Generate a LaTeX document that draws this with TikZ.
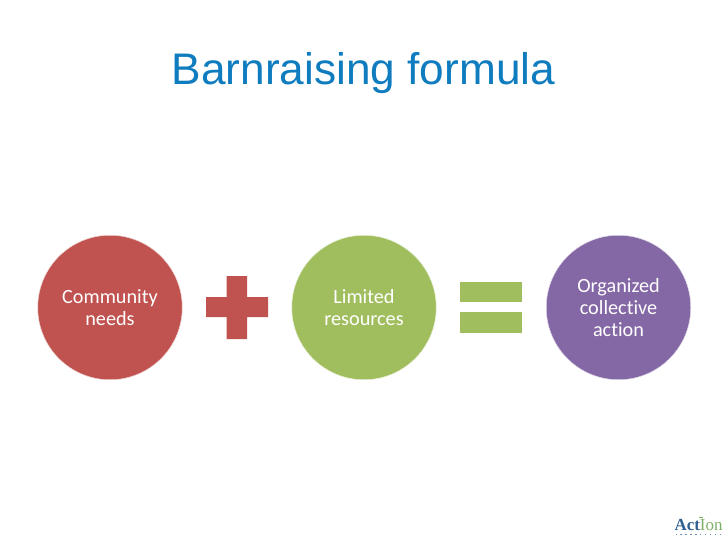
\documentclass[tikz,border=0pt]{standalone}
\usepackage{fontspec}
\setmainfont{Liberation Sans}
\newfontfamily\carlito[Ligatures=NoCommon]{Carlito}
\newfontfamily\logofont{Liberation Serif}
\definecolor{titleblue}{HTML}{0F7CBF}
\definecolor{redfill}{HTML}{C0534F}
\definecolor{greenfill}{HTML}{A0BE5E}
\definecolor{purplefill}{HTML}{8467A5}
\definecolor{logoblue}{HTML}{2F5F8F}
\definecolor{logogreen}{HTML}{7FB069}
\tikzset{
  x=1bp,y=-1bp,
  disc/.style={circle,minimum size=144.5bp,inner sep=0pt,draw=#1!25!white,line width=0.5bp,align=center,text=white,fill=#1,font=\carlito\fontsize{20.3}{22.5}\selectfont},
  opshape/.style={fill=#1,draw=none}
}
\begin{document}
\begin{tikzpicture}
\useasboundingbox (0,0) rectangle (728,546);
\fill[white] (0,0) rectangle (728,546);
\node[text=titleblue,font=\fontsize{44.4}{50}\selectfont,inner sep=0pt,anchor=base] (title) at (363.5,85) {Barnraising formula};
\node[disc=redfill] (a) at (110,307.5) {Community\\needs};
\node[disc=greenfill] (b) at (364,307.5) {Limited\\resources};
\node[disc=purplefill] (c) at (618.5,307.5) {Organized\\collective\\action};
\fill[opshape=redfill] (206,297) -- (226.5,297) -- (226.5,276) -- (247,276) -- (247,297) -- (268,297) -- (268,317) -- (247,317) -- (247,339) -- (226.5,339) -- (226.5,317) -- (206,317) -- cycle;
\fill[opshape=greenfill] (460,282) rectangle (522,302);
\fill[opshape=greenfill] (460,312) rectangle (522,332.5);
\node[inner sep=0pt,anchor=base,font=\logofont\fontsize{17}{18}\selectfont] (logo) at (698.5,530) {\textcolor{logoblue}{\bfseries Act}\textcolor{logogreen}{Ion}};
\foreach \i in {0,...,9} \fill[logoblue!70] (675.5+4.9*\i,533.5) rectangle ++(1.4,1.4);
\fill[logogreen] (698.5,516.5) rectangle ++(4,1.5);
\end{tikzpicture}
\end{document}
